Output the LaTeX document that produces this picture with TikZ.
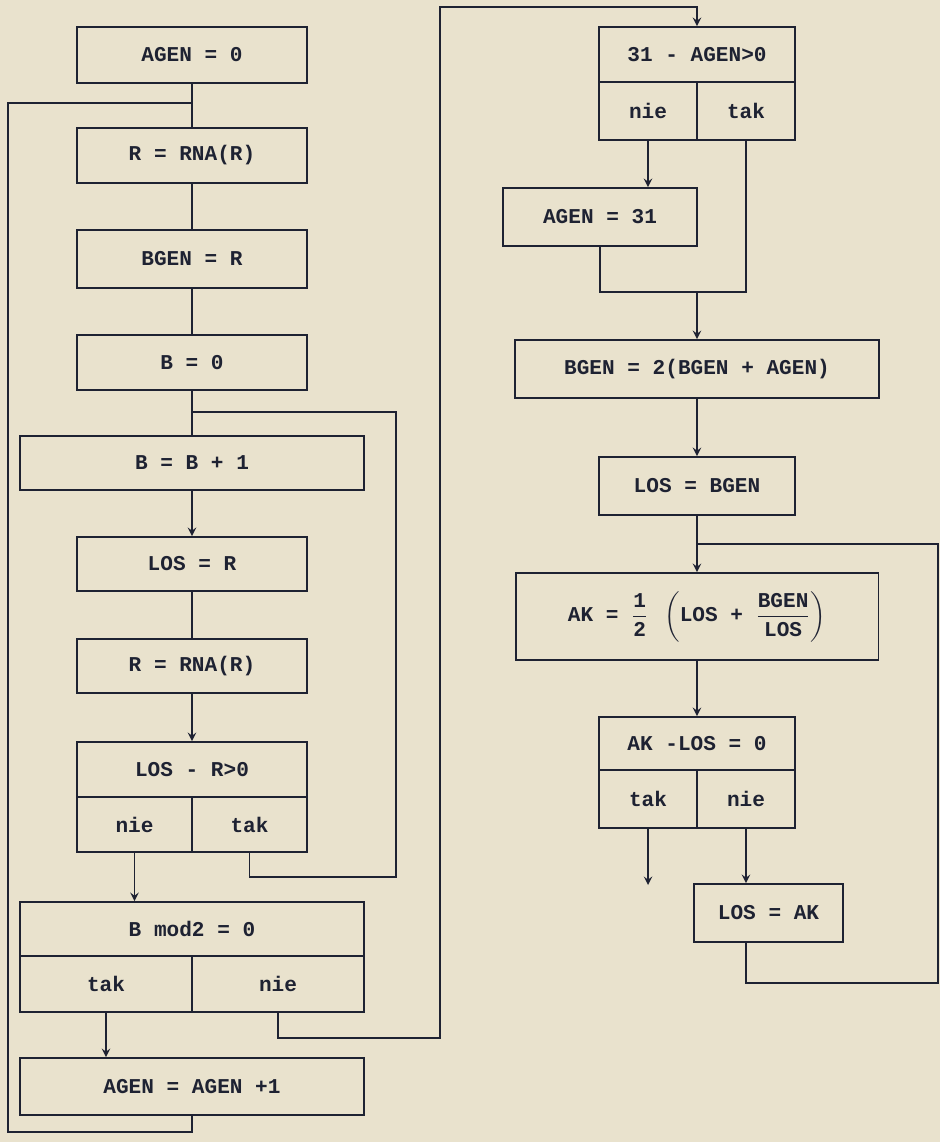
\documentclass[tikz,border=0pt]{standalone}
\usepackage{amsmath}
\usepackage{fontspec}
\setmonofont{Liberation Mono}
\usepackage{xcolor}
\usepackage{tikz}
\usetikzlibrary{positioning,calc}

\definecolor{paper}{HTML}{E9E2CD}
\definecolor{ink}{HTML}{1E2232}

\tikzset{
  box/.style={rectangle, draw=ink, line width=1.1pt, inner sep=0pt, text=ink,
    font=\ttfamily\bfseries\fontsize{12}{14}\selectfont},
  wire/.style={draw=ink, line width=1.1pt},
}

\begin{document}
\begin{tikzpicture}[x=0.02cm, y=-0.02cm]
		\fill[paper] (0,0) rectangle (940,1142);
		\useasboundingbox (0,0) rectangle (940,1142);

		% left column
		\node[box, minimum width=4.6cm, minimum height=1.12cm] (agen0) at (192,55) {AGEN = 0};
		\node[box, minimum width=4.6cm, minimum height=1.1cm] (rna1) at (192,155.5) {R = RNA(R)};
		\node[box, minimum width=4.6cm, minimum height=1.16cm] (bgenr) at (192,259) {BGEN = R};
		\node[box, minimum width=4.6cm, minimum height=1.1cm] (bzero) at (192,362.5) {B = 0};
		\node[box, minimum width=6.88cm, minimum height=1.08cm] (binc) at (192,463) {B = B + 1};
		\node[box, minimum width=4.6cm, minimum height=1.08cm] (losr) at (192,564) {LOS = R};
		\node[box, minimum width=4.6cm, minimum height=1.08cm] (rna2) at (192,666) {R = RNA(R)};
		\node[box, minimum width=4.6cm, minimum height=1.1cm] (testa) at (192,769.5) {LOS - R>0};
		\node[box, minimum width=2.3cm, minimum height=1.1cm] (niea) at (134.5,824.5) {nie};
		\node[box, minimum width=2.3cm, minimum height=1.1cm] (taka) at (249.5,824.5) {tak};
		\node[box, minimum width=6.88cm, minimum height=1.08cm] (testb) at (192,929) {B mod2 = 0};
		\node[box, minimum width=3.44cm, minimum height=1.12cm] (takb) at (106,984) {tak};
		\node[box, minimum width=3.44cm, minimum height=1.12cm] (nieb) at (278,984) {nie};
		\node[box, minimum width=6.88cm, minimum height=1.14cm] (ainc) at (192,1086.5) {AGEN = AGEN +1};

		% right column
		\node[box, minimum width=3.92cm, minimum height=1.1cm] (testc) at (697,54.5) {31 - AGEN>0};
		\node[box, minimum width=1.96cm, minimum height=1.16cm] (niec) at (648,111) {nie};
		\node[box, minimum width=1.96cm, minimum height=1.16cm] (takc) at (746,111) {tak};
		\node[box, minimum width=3.88cm, minimum height=1.16cm] (a31) at (600,217) {AGEN = 31};
		\node[box, minimum width=7.28cm, minimum height=1.16cm] (bgen2) at (697,369) {BGEN = 2(BGEN + AGEN)};
		\node[box, minimum width=3.92cm, minimum height=1.16cm] (losb) at (697,486) {LOS = BGEN};
		\node[box, minimum width=7.26cm, minimum height=1.74cm] (akf) at (697,616.5)
			{AK = $\dfrac{\texttt{1}}{\texttt{2}}\ \left(\texttt{LOS}\ \texttt{+}\ \dfrac{\texttt{BGEN}}{\texttt{LOS}}\right)$};
		\node[box, minimum width=3.92cm, minimum height=1.06cm] (testd) at (697,743.5) {AK -LOS = 0};
		\node[box, minimum width=1.96cm, minimum height=1.16cm] (takd) at (648,799) {tak};
		\node[box, minimum width=1.96cm, minimum height=1.16cm] (nied) at (746,799) {nie};
		\node[box, minimum width=2.98cm, minimum height=1.16cm] (losak) at (768.5,913) {LOS = AK};

		\coordinate (ja) at (192,103);
		\coordinate (jb) at (192,412);
		\coordinate (jc) at (697,544);
		\coordinate (jm) at (697,292);
		\coordinate (la) at (8,1132);
		\coordinate (lb) at (396,877);
		\coordinate (lc) at (440,1038);
		\coordinate (ld) at (440,7);
		\coordinate (le) at (938,983);
		\coordinate (stop) at (648,885);

		% left connectors
		\draw[wire] (agen0.south) -- (rna1.north);
		\draw[wire] (rna1.south) -- (bgenr.north);
		\draw[wire] (bgenr.south) -- (bzero.north);
		\draw[wire] (bzero.south) -- (binc.north);
		\draw[wire, -stealth] (binc.south) -- (losr.north);
		\draw[wire] (losr.south) -- (rna2.north);
		\draw[wire, -stealth] (rna2.south) -- (testa.north);
		\draw[wire, -stealth] (niea.south) -- (niea.south |- testb.north);
		\draw[wire] (taka.south) |- (lb) |- (jb);
		\draw[wire, -stealth] (takb.south) -- (takb.south |- ainc.north);
		\draw[wire, -stealth] (nieb.south) |- (lc) |- (ld) -| (testc.north);
		\draw[wire] (ainc.south) |- (la) |- (ja);

		% right connectors
		\draw[wire, -stealth] (niec.south) -- (niec.south |- a31.north);
		\draw[wire] (a31.south) |- (jm);
		\draw[wire] (takc.south) |- (jm);
		\draw[wire, -stealth] (jm) -- (bgen2.north);
		\draw[wire, -stealth] (bgen2.south) -- (losb.north);
		\draw[wire, -stealth] (losb.south) -- (akf.north);
		\draw[wire, -stealth] (akf.south) -- (testd.north);
		\draw[wire, -stealth] (takd.south) -- (stop);
		\draw[wire, -stealth] (nied.south) -- (nied.south |- losak.north);
		\draw[wire] (losak.south -| nied.south) |- (le) |- (jc);
\end{tikzpicture}
\end{document}
